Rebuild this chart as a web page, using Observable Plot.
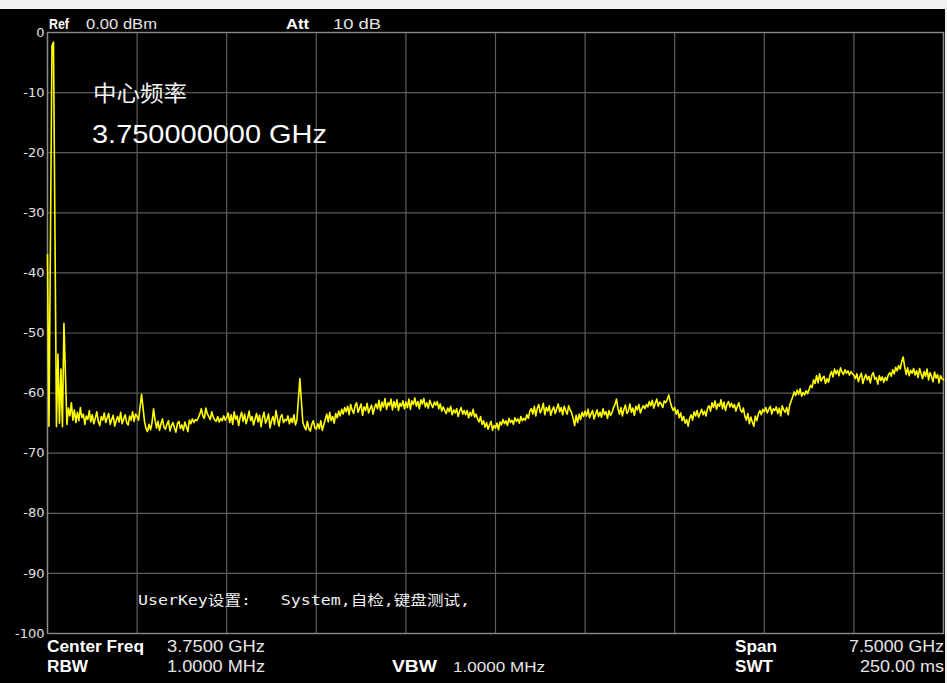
<!DOCTYPE html>
<html><head><meta charset="utf-8">
<script src="https://cdn.jsdelivr.net/npm/d3@7"></script>
<script src="https://cdn.jsdelivr.net/npm/@observablehq/plot@0.6"></script>
<style>
html,body{margin:0;padding:0;background:#f2f2f2;}
#wrap{position:relative;width:947px;height:683px;overflow:hidden;background:#f2f2f2;}
#screen{position:absolute;left:0;top:9px;width:945px;height:674px;background:#000;}
#chart{position:absolute;left:0;top:0;}
#overlay{position:absolute;left:0;top:0;pointer-events:none;}
</style></head><body>
<div id="wrap"><div id="screen"></div><div id="chart"></div><svg id="overlay" width="947" height="683"></svg></div>
<script>
// Sweep settings (from the instrument annotations)
const startGHz = 0;
const stopGHz = 7.5;
const sweepPoints = 601;

// Trace levels in dBm, one per sweep point
const levels = [
-37, -65.5, -33.5, -2.2, -1.6, -33.4, -65.6, -53.5, -65, -56, -65.6, -48.4, -56.8, -65.2, -62.5, -63.8, -61.6, -64.5, -62.8, -64.9,
-63.2, -64.6, -62.4, -64.1, -63.5, -65.2, -63.8, -64.4, -62.9, -64.8, -63.6, -65.1, -64.2, -63.1, -64.7, -65.4, -63.9, -64.5, -63.3, -64.9,
-64.1, -63.4, -65.2, -64.4, -63.7, -65.5, -64.6, -63.9, -64.8, -63.2, -65.1, -64.3, -63.6, -64.9, -65.3, -63.8, -64.5, -63.1, -64.7, -63.5,
-63.9, -64.5, -62.3, -60.2, -62.5, -64.8, -65.9, -66.4, -65.2, -66.1, -64.9, -62.6, -64.4, -65.8, -64.7, -66.2, -65.1, -64.3, -65.7, -66.0,
-65.2, -64.6, -66.3, -65.4, -64.9, -65.8, -66.5, -65.1, -64.7, -65.9, -65.3, -66.2, -64.8, -65.6, -66.4, -64.5, -65.1, -64.3, -64.9, -64.4,
-64.6, -64.1, -63.5, -62.6, -63.8, -64.2, -62.5, -63.4, -63.9, -64.4, -63.1, -64.0, -64.5, -64.7, -63.9, -64.8, -64.2, -64.6, -63.8, -64.5,
-64.1, -63.3, -64.9, -63.6, -65.2, -63.1, -64.4, -63.8, -65.4, -64.0, -63.2, -64.7, -63.5, -65.1, -64.2, -63.0, -64.6, -63.9, -65.3, -64.3,
-63.4, -64.8, -63.7, -65.6, -64.1, -63.2, -65.0, -64.4, -63.5, -65.8, -64.6, -63.9, -65.2, -62.9, -64.3, -65.5, -64.0, -63.6, -64.9, -64.4,
-64.6, -63.8, -65.1, -64.2, -64.9, -63.6, -65.3, -64.5, -61.1, -57.6, -61.3, -64.9, -65.6, -66.1, -64.7, -65.9, -66.3, -65.2, -64.6, -65.8,
-66.0, -65.1, -65.9, -64.6, -66.2, -65.3, -64.4, -63.5, -64.8, -63.2, -64.6, -63.9, -65.0, -63.4, -64.1, -63.0, -63.8, -62.7, -63.5, -62.4,
-63.1, -62.2, -63.6, -61.9, -62.8, -63.4, -62.1, -61.6, -63.2, -62.5, -61.8, -63.7, -62.3, -62.9, -61.7, -63.3, -62.6, -62.0, -63.5, -62.4,
-61.8, -62.6, -61.2, -62.9, -61.5, -62.3, -60.9, -62.7, -61.6, -62.1, -61.0, -62.8, -61.4, -62.4, -61.1, -62.9, -61.7, -62.2, -61.3, -62.6,
-61.5, -62.4, -61.0, -62.7, -61.3, -61.9, -60.8, -62.2, -61.4, -62.6, -61.1, -61.8, -60.9, -62.3, -61.6, -62.5, -61.2, -61.9, -62.4, -61.5,
-62.0, -61.4, -62.6, -61.8, -63.0, -62.3, -62.9, -63.4, -62.5, -63.1, -62.2, -63.6, -62.8, -63.3, -62.6, -63.9, -63.0, -62.4, -63.5, -62.9,
-63.6, -62.9, -64.1, -63.2, -63.8, -62.7, -64.0, -63.5, -64.3, -64.8, -63.9, -65.2, -64.6, -65.7, -64.9, -66.0, -65.3, -64.7, -66.2, -65.4,
-65.8, -65.0, -66.1, -64.8, -65.3, -64.4, -65.1, -64.6, -65.4, -64.2, -64.9, -64.5, -65.2, -64.1, -64.7, -64.3, -65.0, -63.9, -64.6, -64.2,
-64.5, -63.6, -64.2, -63.0, -62.6, -63.5, -62.2, -63.8, -62.5, -61.9, -63.3, -62.7, -61.7, -63.6, -62.4, -63.0, -62.1, -63.7, -62.8, -62.3,
-63.4, -62.6, -61.8, -63.1, -62.4, -63.6, -62.2, -62.9, -63.5, -62.1, -62.8, -63.3, -64.2, -65.4, -63.7, -64.9, -63.5, -64.4, -63.2, -63.9,
-63.0, -63.8, -62.7, -64.1, -63.4, -62.9, -64.3, -63.5, -62.8, -63.9, -63.2, -64.0, -62.6, -63.6, -63.1, -64.2, -62.9, -63.7, -63.3, -62.4,
-61.9, -61.0, -62.6, -63.5, -62.4, -63.8, -62.7, -62.0, -63.4, -62.9, -61.8, -63.2, -62.5, -63.7, -62.2, -62.8, -61.9, -63.3, -62.6, -62.1,
-62.6, -61.9, -62.3, -61.4, -62.1, -61.2, -62.5, -61.7, -61.0, -62.2, -61.5, -61.8, -62.4, -61.3, -61.6, -61.1, -60.3, -61.4, -62.3, -62.9,
-62.4, -63.5, -62.8, -64.1, -63.3, -64.6, -63.9, -65.0, -64.4, -65.5, -64.2, -63.6, -64.5, -63.1, -63.8, -62.9, -64.0, -63.4, -62.7, -63.6,
-63.0, -63.8, -62.5, -62.1, -63.0, -61.6, -62.4, -61.3, -62.7, -61.8, -62.2, -61.1, -62.6, -61.5, -62.9, -61.9, -61.4, -62.3, -61.7, -62.4,
-61.9, -63.0, -62.2, -61.6, -62.8, -63.2, -62.5, -63.9, -64.5, -63.4, -65.1, -64.0, -64.8, -65.5, -63.8, -64.6, -63.5, -62.9, -63.6, -62.7,
-63.1, -62.4, -63.3, -62.7, -62.2, -63.5, -62.6, -62.9, -62.3, -63.4, -62.5, -63.8, -62.1, -62.8, -63.2, -62.4, -63.6, -62.0, -61.3, -60.6,
-59.8, -60.4, -59.5, -60.2, -59.3, -60.5, -59.9, -60.3, -59.6, -60.1, -59.4, -58.7, -59.1, -57.8, -58.4, -57.1, -58.3, -56.8, -58.0, -57.5,
-57.2, -58.4, -57.6, -58.2, -57.0, -56.4, -57.3, -56.0, -56.8, -56.2, -57.1, -55.8, -56.5, -56.9, -56.1, -56.7, -56.3, -57.0, -56.4, -56.8,
-57.0, -57.6, -56.8, -58.1, -57.3, -56.7, -58.4, -57.5, -56.9, -57.8, -57.2, -58.3, -57.0, -56.6, -57.7, -57.4, -58.5, -57.1, -57.9, -57.3,
-58.2, -57.4, -57.9, -57.0, -56.6, -57.2, -56.1, -56.8, -55.7, -56.3, -55.4, -56.0, -54.8, -54.0, -55.6, -56.9, -55.8, -57.1, -56.2, -56.7,
-55.9, -57.0, -56.3, -57.4, -55.9, -56.8, -57.6, -56.4, -57.2, -56.0, -57.8, -56.6, -57.3, -58.1, -56.5, -57.5, -56.9, -58.3, -57.1, -57.6,
-57.8
];

// Grid divisions
const xTicks = [0, 0.75, 1.5, 2.25, 3, 3.75, 4.5, 5.25, 6, 6.75, 7.5];
const yTicks = [0, -10, -20, -30, -40, -50, -60, -70, -80, -90, -100];

// Annotation texts
const headerTexts = ["Ref", "0.00 dBm", "Att", "10 dB"];
const footerTexts = ["Center Freq", "3.7500 GHz", "RBW", "1.0000 MHz", "VBW", "1.0000 MHz", "Span", "7.5000 GHz", "SWT", "250.00 ms"];
const markerTexts = ["中心频率", "3.750000000 GHz"];
const userKeyText = "UserKey设置:   System,自检,键盘测试,";

const trace = levels.map((db, i) => ({f: startGHz + i * (stopGHz - startGHz) / (sweepPoints - 1), db}));

const chart = Plot.plot({
  width: 947,
  height: 683,
  marginLeft: 47,
  marginRight: 4,
  marginTop: 32,
  marginBottom: 50,
  style: {background: "transparent", color: "#e0e0e0", fontFamily: "DejaVu Sans, sans-serif", fontSize: "13px"},
  x: {domain: [startGHz, stopGHz], axis: null, label: null},
  y: {domain: [-100, 0], axis: null, label: null},
  marks: [
    Plot.gridX(xTicks, {stroke: "#5c5c5c", strokeOpacity: 1, strokeWidth: 1.2}),
    Plot.gridY(yTicks, {stroke: "#5c5c5c", strokeOpacity: 1, strokeWidth: 1.2}),
    Plot.frame({stroke: "#8a8a8a", strokeWidth: 1.4}),
    Plot.axisY(yTicks, {tickSize: 0, tickPadding: 3, fill: "#e0e0e0", fontSize: 13, tickFormat: d => String(d), label: null}),
    Plot.line(trace, {x: "f", y: "db", stroke: "#ffff00", strokeWidth: 1.6})
  ]
});
document.getElementById("chart").appendChild(chart);

// Overlay annotations (instrument screen labels)
const ov = d3.select("#overlay");
function label(txt, x, y, size, width, opts = {}) {
  const t = ov.append("text")
    .attr("x", x).attr("y", y)
    .attr("font-size", size)
    .attr("font-family", opts.family || "Liberation Sans, Arial, sans-serif")
    .attr("font-weight", opts.weight || "normal")
    .attr("fill", opts.fill || "#e6e6e6")
    .style("white-space", "pre")
    .text(txt);
  if (width) t.attr("textLength", width).attr("lengthAdjust", "spacingAndGlyphs");
  return t;
}
const B = {weight: "bold", fill: "#ffffff"};
label(headerTexts[0], 49, 29, 15, 20, B);
label(headerTexts[1], 86, 29, 15, 71);
label(headerTexts[2], 286, 29, 15, 23, B);
label(headerTexts[3], 333, 29, 15, 48);

label(footerTexts[0], 47, 652, 16, 97, B);
label(footerTexts[1], 167, 652, 16, 98);
label(footerTexts[2], 47, 672, 16, 41, B);
label(footerTexts[3], 167, 672, 16, 98);
label(footerTexts[4], 392, 672, 16, 45, B);
label(footerTexts[5], 453, 672, 15, 92);
label(footerTexts[6], 735, 652, 16, 42, B);
label(footerTexts[7], 849, 652, 16, 95);
label(footerTexts[8], 735, 672, 16, 38, B);
label(footerTexts[9], 860, 672, 16, 84);

label(markerTexts[0], 93, 101, 22, 94, {family: "Noto Sans CJK SC, sans-serif", fill: "#f2f2f2"});
label(markerTexts[1], 92, 143, 25, 235, {fill: "#ffffff"});
label(userKeyText, 138, 605, 14, 332, {family: "DejaVu Sans Mono, Noto Sans CJK SC, monospace", fill: "#f0f0f0"});
</script>
</body></html>
